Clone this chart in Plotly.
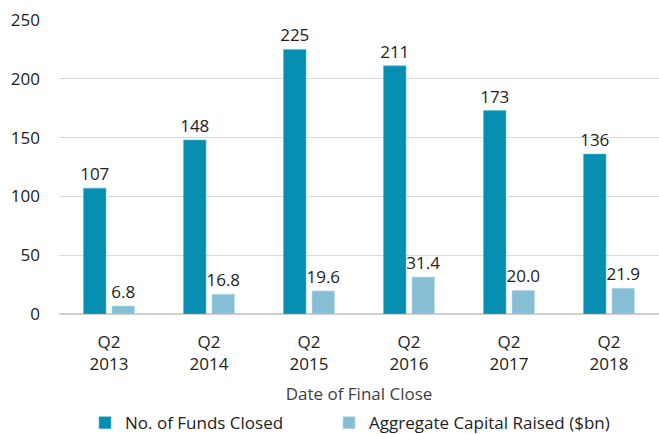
import plotly.graph_objects as go

categories = ["Q2<br>2013", "Q2<br>2014", "Q2<br>2015", "Q2<br>2016", "Q2<br>2017", "Q2<br>2018"]
funds_closed = [107, 148, 225, 211, 173, 136]
capital_raised = [6.8, 16.8, 19.6, 31.4, 20.0, 21.9]
capital_labels = ["6.8", "16.8", "19.6", "31.4", "20.0", "21.9"]

font_family = "Open Sans, Noto Sans, sans-serif"
text_color = "#222222"
fs = 17

fig = go.Figure()
fig.add_trace(go.Bar(
    x=categories, y=funds_closed, name="No. of Funds Closed",
    marker=dict(color="#068fb0", line=dict(color="#5fb8cf", width=0.6)),
    text=[str(v) for v in funds_closed], textposition="outside",
    textfont=dict(size=fs, color=text_color), cliponaxis=False,
    constraintext="none", legend="legend",
))
fig.add_trace(go.Bar(
    x=categories, y=capital_raised, name="Aggregate Capital Raised ($bn)",
    marker=dict(color="#86bed6", line=dict(color="#b5dbe8", width=0.6)),
    text=capital_labels, textposition="outside",
    textfont=dict(size=fs, color=text_color), cliponaxis=False,
    constraintext="none", legend="legend2",
))

legend_common = dict(orientation="h", xanchor="left", xref="container",
                     y=0.025, yanchor="middle", yref="container",
                     font=dict(size=fs, color=text_color), itemwidth=30,
                     bgcolor="rgba(0,0,0,0)")

fig.update_layout(
    width=659, height=434,
    margin=dict(l=59, r=0, t=20, b=120, autoexpand=False),
    paper_bgcolor="white", plot_bgcolor="white",
    barmode="group", bargap=0.43, bargroupgap=0.21,
    font=dict(family=font_family, size=fs, color=text_color),
    showlegend=True,
    legend=dict(x=85 / 659, **legend_common),
    legend2=dict(x=329 / 659, **legend_common),
    xaxis=dict(
        title=dict(text="Date of Final Close", font=dict(size=fs, color="#404040"), standoff=15),
        tickfont=dict(size=fs, color=text_color), showgrid=False,
        showline=False, ticks="", ticklabelstandoff=16, automargin=False,
    ),
    yaxis=dict(
        range=[0, 250], dtick=50, showgrid=True, gridcolor="#d9d9d9", gridwidth=1,
        zeroline=True, zerolinecolor="#cfcfcf", zerolinewidth=1.5,
        tickfont=dict(size=fs, color=text_color), ticks="", ticklabelstandoff=18,
        automargin=False,
    ),
)

fig.write_html("out.html", config={"displayModeBar": False},
               post_script="document.body.style.margin='0';")
